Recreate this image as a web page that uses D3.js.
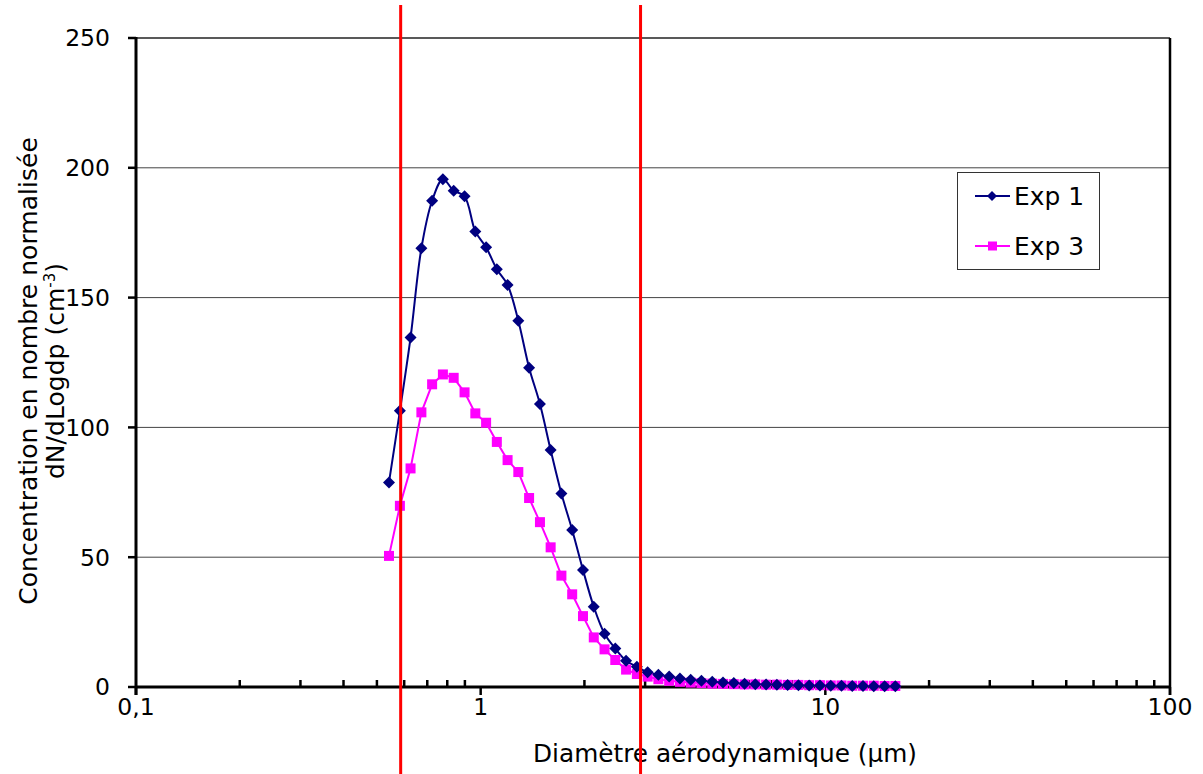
<!DOCTYPE html>
<html><head><meta charset="utf-8">
<script src="https://cdn.jsdelivr.net/npm/d3@7"></script>
<style>body{margin:0;background:#fff}</style>
</head><body>
<svg id="c" width="1203" height="774"></svg>
<script>
// ---- data ----
const diameters = [0.542,0.583,0.626,0.673,0.723,0.777,0.835,0.898,0.965,1.037,1.114,1.197,1.286,1.382,1.486,1.596,1.715,1.843,1.981,2.129,2.288,2.458,2.642,2.839,3.051,3.278,3.523,3.786,4.068,4.371,4.698,5.048,5.425,5.829,6.264,6.732,7.234,7.774,8.354,8.977,9.647,10.37,11.14,11.97,12.86,13.82,14.86,15.96];
const exp1 = [78.8,106.4,134.6,169,187.3,195.6,191.2,189,175.5,169.4,160.9,154.9,141.1,123,109,91.3,74.5,60.5,45.1,30.9,20.5,14.8,10.1,7.8,5.7,4.7,4.0,3.3,2.8,2.4,2.0,1.7,1.5,1.3,1.1,1.0,0.9,0.8,0.7,0.6,0.6,0.5,0.5,0.4,0.4,0.3,0.3,0.3];
const exp3 = [50.5,69.8,84.2,105.8,116.6,120.4,119.1,113.5,105.4,101.8,94.4,87.4,82.8,72.8,63.5,53.8,42.9,35.7,27.3,19.1,14.5,10.4,6.7,5.0,4.0,3.0,2.4,2.0,1.7,1.5,1.3,1.2,1.1,1.0,1.0,0.9,0.9,0.8,0.8,0.7,0.7,0.6,0.6,0.5,0.5,0.5,0.4,0.4];
const seriesNames = ["Exp 1","Exp 3"];
const yTicks = [0,50,100,150,200,250];
const xTicks = [0.1,1,10,100];
const xTickLabels = ["0,1","1","10","100"];
const boundaries = [0.586,2.91];
const xTitle = "Diamètre aérodynamique (µm)";
const yTitle1 = "Concentration en nombre normalisée";
const yTitle2 = "dN/dLogdp (cm";

// ---- layout ----
const svg = d3.select("#c");
const L=136, R=1170, T=38, B=687;
const x = d3.scaleLog().domain([0.1,100]).range([L,R]);
const y = d3.scaleLinear().domain([0,250]).range([B,T]);
const font = "'DejaVu Sans', sans-serif";

function fit(sel, target){
  const w = sel.node().getComputedTextLength();
  const fs = +sel.attr("font-size");
  sel.attr("font-size", fs*target/w);
}

// gridlines
svg.append("g").selectAll("line").data(yTicks.filter(v=>v>0 && v<250)).join("line")
  .attr("x1",L).attr("x2",R).attr("y1",d=>y(d)).attr("y2",d=>y(d))
  .attr("stroke","#444").attr("stroke-width",1);

// frame top/right
svg.append("line").attr("x1",L).attr("x2",R).attr("y1",T).attr("y2",T).attr("stroke","#222").attr("stroke-width",1.5);
svg.append("line").attr("x1",R).attr("x2",R).attr("y1",T).attr("y2",B+8).attr("stroke","#000").attr("stroke-width",2.5);

// y axis
svg.append("line").attr("x1",L).attr("x2",L).attr("y1",T-1).attr("y2",B+8).attr("stroke","#000").attr("stroke-width",3);
svg.append("g").selectAll("line").data(yTicks).join("line")
  .attr("x1",L-8).attr("x2",L).attr("y1",d=>y(d)).attr("y2",d=>y(d)).attr("stroke","#000").attr("stroke-width",2.5);
svg.append("g").selectAll("text").data(yTicks).join("text")
  .attr("x",110).attr("y",d=>y(d)).attr("dy","0.36em").attr("text-anchor","end")
  .attr("font-family",font).attr("font-size",23.5).text(d=>d);

// x axis
svg.append("line").attr("x1",L).attr("x2",R).attr("y1",B).attr("y2",B).attr("stroke","#000").attr("stroke-width",3);
const minor=[];
for(let e=-1;e<2;e++){for(let k=2;k<10;k++){minor.push(k*Math.pow(10,e));}}
svg.append("g").selectAll("line").data(minor).join("line")
  .attr("x1",d=>x(d)).attr("x2",d=>x(d)).attr("y1",B-7).attr("y2",B).attr("stroke","#000").attr("stroke-width",2.5);
svg.append("g").selectAll("line").data(xTicks).join("line")
  .attr("x1",d=>x(d)).attr("x2",d=>x(d)).attr("y1",B).attr("y2",B+8).attr("stroke","#000").attr("stroke-width",2.5);
svg.append("g").selectAll("text").data(xTicks).join("text")
  .attr("x",d=>x(d)).attr("y",715).attr("text-anchor","middle")
  .attr("font-family",font).attr("font-size",23.5).text((d,i)=>xTickLabels[i]);

// titles
const xt = svg.append("text").attr("x",725).attr("y",762).attr("text-anchor","middle")
  .attr("font-family",font).attr("font-size",22).text(xTitle);
fit(xt, 384);
const yt = svg.append("g").attr("transform","translate(0,371) rotate(-90)");
const t1 = yt.append("text").attr("x",0).attr("y",37).attr("text-anchor","middle")
  .attr("font-family",font).attr("font-size",22).text(yTitle1);
fit(t1, 468);
const t2 = yt.append("text").attr("x",0).attr("y",64).attr("text-anchor","middle")
  .attr("font-family",font).attr("font-size",t1.attr("font-size"));
t2.append("tspan").text(yTitle2);
t2.append("tspan").attr("dy",-9).attr("font-size",15).text("-3");
t2.append("tspan").attr("dy",9).text(")");

// series
const pts1 = diameters.map((d,i)=>[d,exp1[i]]);
const pts3 = diameters.map((d,i)=>[d,exp3[i]]);
svg.append("path").datum(pts1).attr("fill","none").attr("stroke","#000080").attr("stroke-width",2)
  .attr("d",d3.line().x(d=>x(d[0])).y(d=>y(d[1])).curve(d3.curveCatmullRom.alpha(0.5)));
svg.append("path").datum(pts3).attr("fill","none").attr("stroke","#FF00FF").attr("stroke-width",2)
  .attr("d",d3.line().x(d=>x(d[0])).y(d=>y(d[1])));
svg.append("g").selectAll("rect").data(pts3).join("rect")
  .attr("x",d=>x(d[0])-5).attr("y",d=>y(d[1])-5).attr("width",10).attr("height",10).attr("fill","#FF00FF");
svg.append("g").selectAll("path").data(pts1).join("path")
  .attr("transform",d=>`translate(${x(d[0])},${y(d[1])})`)
  .attr("d","M0,-6L6,0L0,6L-6,0Z").attr("fill","#000080");

// red boundary lines
svg.append("g").selectAll("line").data(boundaries).join("line")
  .attr("x1",d=>x(d)).attr("x2",d=>x(d)).attr("y1",5).attr("y2",774)
  .attr("stroke","#FF0000").attr("stroke-width",3);

// legend
const lg = svg.append("g");
lg.append("rect").attr("x",957.5).attr("y",172.5).attr("width",142).attr("height",97)
  .attr("fill","#fff").attr("stroke","#333").attr("stroke-width",1);
const ly=[196,246];
lg.append("line").attr("x1",975).attr("x2",1010).attr("y1",ly[0]).attr("y2",ly[0]).attr("stroke","#000080").attr("stroke-width",2);
lg.append("path").attr("transform",`translate(992,${ly[0]})`).attr("d","M0,-5L5,0L0,5L-5,0Z").attr("fill","#000080");
lg.append("line").attr("x1",975).attr("x2",1010).attr("y1",ly[1]).attr("y2",ly[1]).attr("stroke","#FF00FF").attr("stroke-width",2);
lg.append("rect").attr("x",988).attr("y",ly[1]-4.5).attr("width",9).attr("height",9).attr("fill","#FF00FF");
const lt = lg.selectAll("text").data(seriesNames).join("text")
  .attr("x",1014).attr("y",(d,i)=>ly[i]).attr("dy","0.36em")
  .attr("font-family",font).attr("font-size",23).text(d=>d);
const lw = lt.node().getComputedTextLength();
lt.attr("font-size", 23*70/lw);
</script>
</body></html>
